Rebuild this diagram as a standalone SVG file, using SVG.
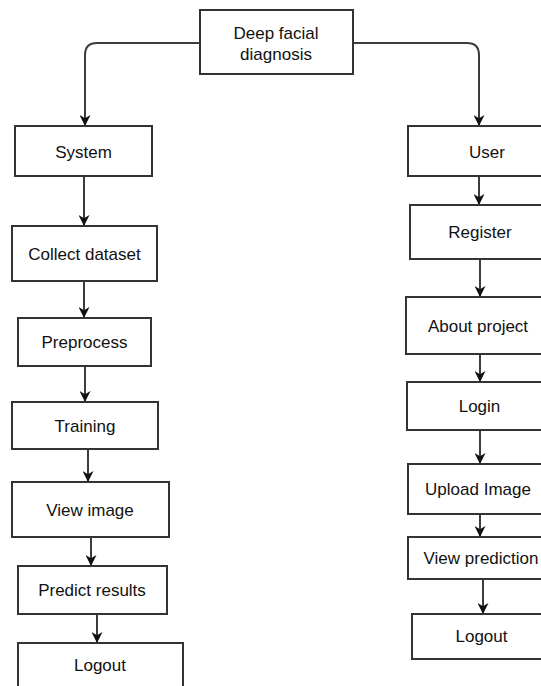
<svg xmlns="http://www.w3.org/2000/svg" width="541" height="686" viewBox="0 0 541 686">
<defs>
<style>
.box{fill:#fff;stroke:#333;stroke-width:2}
.lbl{font-family:"Liberation Sans",Arial,sans-serif;font-size:17px;fill:#111;text-anchor:middle}
.ln{fill:none;stroke:#3c3c3c;stroke-width:2;marker-end:url(#ah)}
</style>
<marker id="ah" viewBox="0 0 10 10" refX="10" refY="5" markerWidth="11" markerHeight="11" markerUnits="userSpaceOnUse" orient="auto">
<path d="M0,0 L10,5 L0,10 L3,5 z" fill="#111"/>
</marker>
</defs>
<rect width="541" height="686" fill="#fff"/>
<g id="connectors">
<path class="ln" d="M200,43 H97 Q85,43 85,55 V126"/>
<path class="ln" d="M353,43 H467 Q479,43 479,55 V126"/>
<path class="ln" d="M84,176 V226"/>
<path class="ln" d="M84,281 V318"/>
<path class="ln" d="M85,366 V402"/>
<path class="ln" d="M88,449 V482"/>
<path class="ln" d="M91,537 V566"/>
<path class="ln" d="M97,614 V643"/>
<path class="ln" d="M479,176 V205"/>
<path class="ln" d="M480,259 V297"/>
<path class="ln" d="M480,354 V382"/>
<path class="ln" d="M480,430 V464"/>
<path class="ln" d="M480,514 V537"/>
<path class="ln" d="M483,579 V614"/>
</g>
<g id="deep-facial-diagnosis">
<rect class="box" x="200" y="10" width="153" height="64"/>
<text class="lbl" x="276" y="39">Deep facial</text>
<text class="lbl" x="276" y="60">diagnosis</text>
</g>
<g id="system">
<rect class="box" x="15" y="126" width="137" height="50"/>
<text class="lbl" x="83.5" y="158">System</text>
</g>
<g id="collect-dataset">
<rect class="box" x="12" y="226" width="145" height="55"/>
<text class="lbl" x="84.5" y="260">Collect dataset</text>
</g>
<g id="preprocess">
<rect class="box" x="18" y="318" width="133" height="48"/>
<text class="lbl" x="84.5" y="348">Preprocess</text>
</g>
<g id="training">
<rect class="box" x="12" y="402" width="146" height="47"/>
<text class="lbl" x="85" y="431.5">Training</text>
</g>
<g id="view-image">
<rect class="box" x="12" y="482" width="157" height="55"/>
<text class="lbl" x="90" y="515.5">View image</text>
</g>
<g id="predict-results">
<rect class="box" x="18" y="566" width="149" height="48"/>
<text class="lbl" x="92" y="596">Predict results</text>
</g>
<g id="logout-system">
<rect class="box" x="18" y="643" width="165" height="60"/>
<text class="lbl" x="100" y="671">Logout</text>
</g>
<g id="user">
<rect class="box" x="408" y="126" width="160" height="50"/>
<text class="lbl" x="487" y="158">User</text>
</g>
<g id="register">
<rect class="box" x="410" y="205" width="160" height="54"/>
<text class="lbl" x="480" y="238">Register</text>
</g>
<g id="about-project">
<rect class="box" x="406" y="297" width="160" height="57"/>
<text class="lbl" x="478" y="331.5">About project</text>
</g>
<g id="login">
<rect class="box" x="407" y="382" width="160" height="48"/>
<text class="lbl" x="479.5" y="412">Login</text>
</g>
<g id="upload-image">
<rect class="box" x="408" y="464" width="160" height="50"/>
<text class="lbl" x="478" y="495">Upload Image</text>
</g>
<g id="view-prediction">
<rect class="box" x="408" y="537" width="160" height="42"/>
<text class="lbl" x="481" y="564">View prediction</text>
</g>
<g id="logout-user">
<rect class="box" x="412" y="614" width="160" height="45"/>
<text class="lbl" x="481.5" y="642">Logout</text>
</g>
</svg>
